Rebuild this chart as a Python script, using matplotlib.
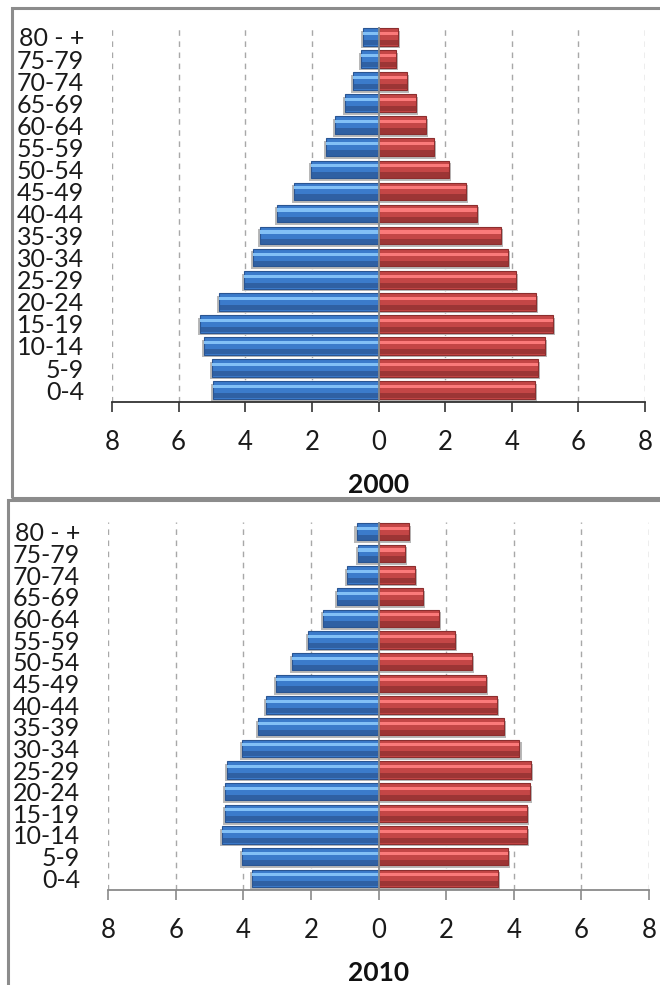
import matplotlib
matplotlib.use("Agg")
import matplotlib.pyplot as plt
from matplotlib.patches import Rectangle
import numpy as np

age_groups = ["0-4", "5-9", "10-14", "15-19", "20-24", "25-29", "30-34", "35-39",
              "40-44", "45-49", "50-54", "55-59", "60-64", "65-69", "70-74", "75-79", "80 - +"]

male_2000 = [4.98, 5.01, 5.25, 5.36, 4.78, 4.05, 3.78, 3.56, 3.05, 2.55, 2.04, 1.59, 1.32, 1.02, 0.78, 0.52, 0.47]
female_2000 = [4.69, 4.78, 5.01, 5.23, 4.74, 4.12, 3.90, 3.69, 2.96, 2.62, 2.12, 1.66, 1.44, 1.12, 0.86, 0.54, 0.58]

male_2010 = [3.73, 4.05, 4.62, 4.55, 4.55, 4.47, 4.05, 3.57, 3.34, 3.03, 2.57, 2.09, 1.63, 1.22, 0.92, 0.61, 0.65]
female_2010 = [3.53, 3.83, 4.40, 4.39, 4.47, 4.51, 4.17, 3.71, 3.50, 3.19, 2.77, 2.27, 1.79, 1.33, 1.07, 0.77, 0.91]

x_ticks = [-8, -6, -4, -2, 0, 2, 4, 6, 8]
x_tick_labels = ["8", "6", "4", "2", "0", "2", "4", "6", "8"]
years = ["2000", "2010"]

FONT = "Lato"
W, H = 660, 985
fig = plt.figure(figsize=(W / 100, H / 100), dpi=100)
fig.patch.set_facecolor("white")


def frame(x0, y0, x1, y1):
    r = Rectangle((x0 / W, 1 - y1 / H), (x1 - x0) / W, (y1 - y0) / H,
                  transform=fig.transFigure, fill=False, edgecolor="#8c8c8c",
                  linewidth=2.2, zorder=0)
    fig.add_artist(r)


frame(12, 8, 700, 498)
frame(8, 500, 700, 1010)

blue = dict(main="#3b7bcb", light="#82c0f6", dark="#2a5592")
red = dict(main="#c44646", light="#fb7a7a", dark="#8c2e2e")


def draw_panel(rect, male, female, year, axis_color):
    ax = fig.add_axes(rect)
    y = np.arange(len(age_groups))
    m = -np.array(male)
    f = np.array(female)
    h = 0.8
    # shadows
    ax.barh(y - 0.12, m - 0.06, height=h, color="#b8b8b8", zorder=2, linewidth=0)
    ax.barh(y - 0.12, f + 0.06, height=h, color="#b8b8b8", zorder=2, linewidth=0)
    for vals, c in ((m, blue), (f, red)):
        ax.barh(y, vals, height=h, color=c["main"], edgecolor=c["dark"],
                linewidth=0.8, zorder=3)
        ax.barh(y - h * 0.32, vals, height=h * 0.3, color=c["dark"],
                linewidth=0, zorder=4, alpha=0.7)
        ax.barh(y + h * 0.2, vals, height=h * 0.18, color=c["light"],
                linewidth=0, zorder=4)
    ax.axvline(0, color="#8a8a8a", linewidth=1.3, zorder=5)

    ax.set_xlim(-8, 8)
    ax.set_ylim(-0.54, 16.45)
    ax.set_xticks(x_ticks)
    ax.set_xticklabels(x_tick_labels, fontsize=18.5, family=FONT, color="#1a1a1a")
    ax.set_yticks(y)
    ax.set_yticklabels(age_groups, fontsize=18, family=FONT, color="#1a1a1a")
    ax.tick_params(axis="y", length=0, pad=20)
    ax.tick_params(axis="x", direction="out", length=7, width=1.2,
                   color=axis_color, pad=13)
    for s in ("top", "right", "left"):
        ax.spines[s].set_visible(False)
    ax.spines["bottom"].set_color(axis_color)
    ax.spines["bottom"].set_linewidth(1.3)
    ax.xaxis.grid(True, linestyle=(0, (4, 4)), color="#a8a8a8", linewidth=1.0)
    ax.set_axisbelow(True)
    ax.set_xlabel(year, fontsize=19, family=FONT, fontweight="bold",
                  labelpad=13, color="#111111")
    ax.patch.set_alpha(0)
    return ax


draw_panel([112 / W, 1 - 402 / H, (645 - 112) / W, (402 - 27) / H],
           male_2000, female_2000, years[0], "#333333")
draw_panel([108 / W, 1 - 890 / H, (649 - 108) / W, (890 - 522) / H],
           male_2010, female_2010, years[1], "#8a8a8a")

fig.savefig("out.png", dpi=100)
